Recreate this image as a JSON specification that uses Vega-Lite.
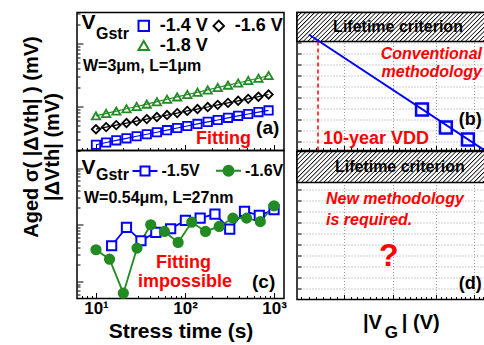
{
"$schema": "https://vega.github.io/schema/vega-lite/v6.json",
"background": "white",
"padding": {"left": 20, "top": 10.5, "right": 0, "bottom": 0},
"spacing": 7,
"config": {
  "font": "Liberation Sans",
  "view": {"stroke": "black", "strokeWidth": 1.5},
  "axis": {"domain": false, "tickColor": "black", "tickWidth": 1, "labelFontWeight": "bold", "titleFontWeight": "bold", "labelColor": "black", "titleColor": "black", "gridColor": "#9a9a9a", "gridDash": [1, 2], "gridWidth": 1},
  "text": {"fontWeight": "bold", "color": "black"}
},
"resolve": {"scale": {"x": "independent", "y": "independent", "color": "independent", "shape": "independent", "fill": "independent", "stroke": "independent"}},
"hconcat": [
{
  "spacing": 0,
  "bounds": "flush",
  "resolve": {"scale": {"x": "independent", "y": "independent", "color": "independent", "shape": "independent", "fill": "independent", "stroke": "independent"}},
  "vconcat": [
  {
    "width": 207, "height": 138,
    "data": {"values": [
      {"time":10,"dvth":2.47,"vg":"-1.4 V"},{"time":13,"dvth":2.68,"vg":"-1.4 V"},{"time":16.9,"dvth":2.9,"vg":"-1.4 V"},{"time":22,"dvth":3.12,"vg":"-1.4 V"},{"time":28.6,"dvth":3.37,"vg":"-1.4 V"},{"time":37.2,"dvth":3.62,"vg":"-1.4 V"},{"time":48.3,"dvth":3.9,"vg":"-1.4 V"},{"time":62.8,"dvth":4.2,"vg":"-1.4 V"},{"time":81.7,"dvth":4.55,"vg":"-1.4 V"},{"time":106,"dvth":4.9,"vg":"-1.4 V"},{"time":138,"dvth":5.28,"vg":"-1.4 V"},{"time":180,"dvth":5.7,"vg":"-1.4 V"},{"time":233,"dvth":6.1,"vg":"-1.4 V"},{"time":304,"dvth":6.6,"vg":"-1.4 V"},{"time":395,"dvth":7.1,"vg":"-1.4 V"},{"time":513,"dvth":7.6,"vg":"-1.4 V"},{"time":668,"dvth":8.15,"vg":"-1.4 V"},{"time":868,"dvth":8.65,"vg":"-1.4 V"},
      {"time":10,"dvth":4.36,"vg":"-1.6 V"},{"time":13,"dvth":4.7,"vg":"-1.6 V"},{"time":16.9,"dvth":5.05,"vg":"-1.6 V"},{"time":22,"dvth":5.45,"vg":"-1.6 V"},{"time":28.6,"dvth":5.85,"vg":"-1.6 V"},{"time":37.2,"dvth":6.3,"vg":"-1.6 V"},{"time":48.3,"dvth":6.8,"vg":"-1.6 V"},{"time":62.8,"dvth":7.3,"vg":"-1.6 V"},{"time":81.7,"dvth":7.85,"vg":"-1.6 V"},{"time":106,"dvth":8.5,"vg":"-1.6 V"},{"time":138,"dvth":9.1,"vg":"-1.6 V"},{"time":180,"dvth":9.8,"vg":"-1.6 V"},{"time":233,"dvth":10.6,"vg":"-1.6 V"},{"time":304,"dvth":11.4,"vg":"-1.6 V"},{"time":395,"dvth":12.3,"vg":"-1.6 V"},{"time":513,"dvth":13.2,"vg":"-1.6 V"},{"time":668,"dvth":14.3,"vg":"-1.6 V"},{"time":868,"dvth":15.5,"vg":"-1.6 V"},
      {"time":10,"dvth":7.1,"vg":"-1.8 V"},{"time":13,"dvth":7.75,"vg":"-1.8 V"},{"time":16.9,"dvth":8.45,"vg":"-1.8 V"},{"time":22,"dvth":9.2,"vg":"-1.8 V"},{"time":28.6,"dvth":10,"vg":"-1.8 V"},{"time":37.2,"dvth":10.9,"vg":"-1.8 V"},{"time":48.3,"dvth":11.9,"vg":"-1.8 V"},{"time":62.8,"dvth":13,"vg":"-1.8 V"},{"time":81.7,"dvth":14.2,"vg":"-1.8 V"},{"time":106,"dvth":15.5,"vg":"-1.8 V"},{"time":138,"dvth":16.8,"vg":"-1.8 V"},{"time":180,"dvth":18.3,"vg":"-1.8 V"},{"time":233,"dvth":20,"vg":"-1.8 V"},{"time":304,"dvth":21.8,"vg":"-1.8 V"},{"time":395,"dvth":23.6,"vg":"-1.8 V"},{"time":513,"dvth":25.8,"vg":"-1.8 V"},{"time":668,"dvth":28,"vg":"-1.8 V"},{"time":868,"dvth":31,"vg":"-1.8 V"}
    ]},
    "resolve": {"scale": {"shape": "independent", "color": "independent", "stroke": "independent"}},
    "layer": [
      {"mark": {"type": "line", "strokeWidth": 1.2},
       "encoding": {
         "x": {"field": "time", "type": "quantitative", "scale": {"type": "log", "domain": [6.12, 1294], "nice": false},
               "axis": {"title": null, "labels": false, "grid": false, "values": [7,8,9,10,20,30,40,50,60,70,80,90,100,200,300,400,500,600,700,800,900,1000],
                        "tickSize": {"condition": {"test": "datum.value===10||datum.value===100||datum.value===1000", "value": -6}, "value": -3}}},
         "y": {"field": "dvth", "type": "quantitative", "scale": {"type": "log", "domain": [2.0, 310], "nice": false},
               "axis": {"title": "|ΔVth| (mV)", "titleFontSize": 20, "titleX": -25, "titleY": 134, "titleBaseline": "middle", "labels": false, "grid": false,
                        "values": [2,3,4,5,6,7,8,9,10,20,30,40,50,60,70,80,90,100,200,300],
                        "tickSize": {"condition": {"test": "datum.value===10||datum.value===100", "value": -6}, "value": -3}}},
         "stroke": {"field": "vg", "type": "nominal", "scale": {"domain": ["-1.4 V","-1.6 V","-1.8 V"], "range": ["#0000ff","#000000","#228b22"]}, "legend": null}
       }},
      {"mark": {"type": "point", "filled": false, "size": 70, "strokeWidth": 1.8, "opacity": 1},
       "encoding": {
         "x": {"field": "time", "type": "quantitative"},
         "y": {"field": "dvth", "type": "quantitative"},
         "color": {"field": "vg", "type": "nominal", "scale": {"domain": ["-1.4 V","-1.6 V","-1.8 V"], "range": ["#0000ff","#000000","#228b22"]}, "legend": null},
         "shape": {"field": "vg", "type": "nominal", "scale": {"domain": ["-1.4 V","-1.6 V","-1.8 V"], "range": ["square","diamond","triangle-up"]}, "legend": null}
       }},
      {"transform": [{"filter": "false"}],
       "mark": {"type": "point", "filled": false, "size": 110, "strokeWidth": 2, "opacity": 1},
       "encoding": {
         "x": {"field": "time", "type": "quantitative"},
         "y": {"field": "dvth", "type": "quantitative"},
         "color": {"field": "vg", "type": "nominal", "scale": {"domain": ["-1.4 V","-1.6 V","-1.8 V"], "range": ["#0000ff","#000000","#228b22"]}, "legend": {"title": null, "orient": "none", "legendX": 57.75, "legendY": 4, "direction": "horizontal", "columns": 2, "columnPadding": 0, "rowPadding": 1, "padding": 0, "labelFontSize": 18, "labelFontWeight": "bold", "labelColor": "black", "symbolSize": 110, "symbolStrokeWidth": 2, "labelOffset": 7}},
         "shape": {"field": "vg", "type": "nominal", "scale": {"domain": ["-1.4 V","-1.6 V","-1.8 V"], "range": ["square","diamond","triangle-up"]}, "legend": {"title": null, "orient": "none", "legendX": 57.75, "legendY": 4, "direction": "horizontal", "columns": 2, "columnPadding": 0, "rowPadding": 1, "padding": 0, "labelFontSize": 18, "labelFontWeight": "bold", "labelColor": "black", "symbolSize": 110, "symbolStrokeWidth": 2, "labelOffset": 7}}
       }},
      {"data": {"values": [{"label": "V"}]}, "mark": {"type": "text", "align": "center", "baseline": "middle", "fontSize": 21},
       "encoding": {"text": {"field": "label"}, "x": {"datum": 8.24}, "y": {"datum": 215}}},
      {"data": {"values": [{"label": "Gstr"}]}, "mark": {"type": "text", "align": "left", "baseline": "middle", "fontSize": 16},
       "encoding": {"text": {"field": "label"}, "x": {"datum": 10}, "y": {"datum": 139}}},
      {"data": {"values": [{"label": "W=3μm, L=1μm"}]}, "mark": {"type": "text", "align": "left", "baseline": "middle", "fontSize": 16},
       "encoding": {"text": {"field": "label"}, "x": {"datum": 7.14}, "y": {"datum": 43.2}}},
      {"data": {"values": [{"label": "Fitting"}]}, "mark": {"type": "text", "align": "left", "baseline": "middle", "fontSize": 18, "color": "#ff0000"},
       "encoding": {"text": {"field": "label"}, "x": {"datum": 133}, "y": {"datum": 3.1}}},
      {"data": {"values": [{"label": "(a)"}]}, "mark": {"type": "text", "align": "left", "baseline": "middle", "fontSize": 19},
       "encoding": {"text": {"field": "label"}, "x": {"datum": 628}, "y": {"datum": 4.48}}}
    ]
  },
  {
    "width": 207, "height": 148,
    "data": {"values": [
      {"time":15,"sigma":4.26,"vg":"-1.5V"},{"time":22,"sigma":8.96,"vg":"-1.5V"},{"time":32,"sigma":5.22,"vg":"-1.5V"},{"time":47,"sigma":7.31,"vg":"-1.5V"},{"time":69,"sigma":8.5,"vg":"-1.5V"},{"time":101,"sigma":11.9,"vg":"-1.5V"},{"time":148,"sigma":13.1,"vg":"-1.5V"},{"time":217,"sigma":15.4,"vg":"-1.5V"},{"time":318,"sigma":8.36,"vg":"-1.5V"},{"time":466,"sigma":17.2,"vg":"-1.5V"},{"time":683,"sigma":14.6,"vg":"-1.5V"},{"time":1000,"sigma":18.4,"vg":"-1.5V"},
      {"time":10,"sigma":3.62,"vg":"-1.6V"},{"time":14.2,"sigma":2.47,"vg":"-1.6V"},{"time":20.3,"sigma":0.62,"vg":"-1.6V"},{"time":28.9,"sigma":3.87,"vg":"-1.6V"},{"time":41.2,"sigma":10,"vg":"-1.6V"},{"time":58.7,"sigma":7.62,"vg":"-1.6V"},{"time":83.7,"sigma":4.87,"vg":"-1.6V"},{"time":119,"sigma":11.1,"vg":"-1.6V"},{"time":170,"sigma":7.62,"vg":"-1.6V"},{"time":242,"sigma":9.33,"vg":"-1.6V"},{"time":345,"sigma":13.1,"vg":"-1.6V"},{"time":492,"sigma":13.1,"vg":"-1.6V"},{"time":701,"sigma":11.4,"vg":"-1.6V"},{"time":1000,"sigma":21.6,"vg":"-1.6V"}
    ]},
    "resolve": {"scale": {"shape": "independent", "fill": "independent", "stroke": "independent", "color": "independent"}},
    "layer": [
      {"mark": {"type": "line", "strokeWidth": 1.8},
       "encoding": {
         "x": {"field": "time", "type": "quantitative", "scale": {"type": "log", "domain": [6.12, 1294], "nice": false},
               "axis": {"title": "Stress time (s)", "titleFontSize": 21, "titlePadding": 4, "grid": false, "labelFontSize": 17, "labelPadding": 8,
                        "values": [7,8,9,10,20,30,40,50,60,70,80,90,100,200,300,400,500,600,700,800,900,1000],
                        "labelExpr": "datum.value===10?'10¹':datum.value===100?'10²':datum.value===1000?'10³':''",
                        "tickSize": {"condition": {"test": "datum.value===10||datum.value===100||datum.value===1000", "value": -6}, "value": -3}}},
         "y": {"field": "sigma", "type": "quantitative", "scale": {"type": "log", "domain": [0.5, 204], "nice": false},
               "axis": {"title": "Aged σ( |ΔVth| ) (mV)", "titleFontSize": 20, "titleX": -46, "titleY": -14, "titleBaseline": "middle", "labels": false, "grid": false,
                        "values": [0.6,0.7,0.8,0.9,1,2,3,4,5,6,7,8,9,10,20,30,40,50,60,70,80,90,100,200],
                        "tickSize": {"condition": {"test": "datum.value===1||datum.value===10||datum.value===100", "value": -6}, "value": -3}}},
         "color": {"field": "vg", "type": "nominal", "scale": {"domain": ["-1.5V","-1.6V"], "range": ["#0000ff","#228b22"]}, "legend": null}
       }},
      {"mark": {"type": "point", "filled": true, "size": 85, "strokeWidth": 2, "opacity": 1},
       "encoding": {
         "x": {"field": "time", "type": "quantitative"},
         "y": {"field": "sigma", "type": "quantitative"},
         "shape": {"field": "vg", "type": "nominal", "scale": {"domain": ["-1.5V","-1.6V"], "range": ["square","circle"]}, "legend": null},
         "fill": {"field": "vg", "type": "nominal", "scale": {"domain": ["-1.5V","-1.6V"], "range": ["#ffffff","#228b22"]}, "legend": null},
         "stroke": {"field": "vg", "type": "nominal", "scale": {"domain": ["-1.5V","-1.6V"], "range": ["#0000ff","#228b22"]}, "legend": null}
       }},
      {"transform": [{"filter": "false"}],
       "mark": {"type": "point", "filled": true, "size": 625, "strokeWidth": 2, "opacity": 1},
       "encoding": {
         "x": {"field": "time", "type": "quantitative"},
         "y": {"field": "sigma", "type": "quantitative"},
         "shape": {"field": "vg", "type": "nominal", "scale": {"domain": ["-1.5V","-1.6V"], "range": ["M-1,0H-0.36M0.36,0H1M-0.36,-0.36H0.36V0.36H-0.36Z", "M-1,0H1M0.4,0A0.4,0.4 0 1 1 -0.4,0A0.4,0.4 0 1 1 0.4,0Z"]},
                   "legend": {"title": null, "orient": "none", "legendX": 54.5, "legendY": 6.5, "direction": "horizontal", "columnPadding": 11.5, "padding": 0, "labelFontSize": 16, "labelFontWeight": "bold", "labelColor": "black", "symbolSize": 625, "symbolStrokeWidth": 2, "labelOffset": 3}},
         "fill": {"field": "vg", "type": "nominal", "scale": {"domain": ["-1.5V","-1.6V"], "range": ["#ffffff","#228b22"]},
                   "legend": {"title": null, "orient": "none", "legendX": 54.5, "legendY": 6.5, "direction": "horizontal", "columnPadding": 11.5, "padding": 0, "labelFontSize": 16, "labelFontWeight": "bold", "labelColor": "black", "symbolSize": 625, "symbolStrokeWidth": 2, "labelOffset": 3}},
         "stroke": {"field": "vg", "type": "nominal", "scale": {"domain": ["-1.5V","-1.6V"], "range": ["#0000ff","#228b22"]},
                   "legend": {"title": null, "orient": "none", "legendX": 54.5, "legendY": 6.5, "direction": "horizontal", "columnPadding": 11.5, "padding": 0, "labelFontSize": 16, "labelFontWeight": "bold", "labelColor": "black", "symbolSize": 625, "symbolStrokeWidth": 2, "labelOffset": 3}}
       }},
      {"data": {"values": [{"label": "V"}]}, "mark": {"type": "text", "align": "center", "baseline": "middle", "fontSize": 21},
       "encoding": {"text": {"field": "label"}, "x": {"datum": 8.24}, "y": {"datum": 100.4}}},
      {"data": {"values": [{"label": "Gstr"}]}, "mark": {"type": "text", "align": "left", "baseline": "middle", "fontSize": 16},
       "encoding": {"text": {"field": "label"}, "x": {"datum": 10}, "y": {"datum": 74.1}}},
      {"data": {"values": [{"label": "W=0.54μm, L=27nm"}]}, "mark": {"type": "text", "align": "left", "baseline": "middle", "fontSize": 16},
       "encoding": {"text": {"field": "label"}, "x": {"datum": 7.33}, "y": {"datum": 29.1}}},
      {"data": {"values": [{"label": "Fitting"}]}, "mark": {"type": "text", "align": "center", "baseline": "middle", "fontSize": 18, "color": "#ff0000"},
       "encoding": {"text": {"field": "label"}, "x": {"datum": 96.1}, "y": {"datum": 2.1}}},
      {"data": {"values": [{"label": "impossible"}]}, "mark": {"type": "text", "align": "center", "baseline": "middle", "fontSize": 18, "color": "#ff0000"},
       "encoding": {"text": {"field": "label"}, "x": {"datum": 100}, "y": {"datum": 0.96}}},
      {"data": {"values": [{"label": "(c)"}]}, "mark": {"type": "text", "align": "left", "baseline": "middle", "fontSize": 19},
       "encoding": {"text": {"field": "label"}, "x": {"datum": 566}, "y": {"datum": 0.96}}}
    ]
  }
  ]
},
{
  "spacing": 1,
  "bounds": "flush",
  "resolve": {"scale": {"x": "independent", "y": "independent", "color": "independent", "shape": "independent", "fill": "independent", "stroke": "independent"}},
  "vconcat": [
  {
    "width": 190, "height": 138,
    "data": {"values": [{"V": 1.076, "T": 5.3e9}, {"V": 1.855, "T": 0.17}]},
    "layer": [
      {"data": {"values": [{"region": "Lifetime criterion"}]},
       "mark": {"type": "rect", "stroke": "black", "strokeWidth": 1.5, "fill": {"gradient": "linear", "x1": 0, "y1": 0, "x2": 1.127, "y2": 0.172, "stops": [
{"offset":0,"color":"#000"},{"offset":0.006,"color":"#fff"},{"offset":0.016,"color":"#fff"},
{"offset":0.02,"color":"#000"},{"offset":0.026,"color":"#fff"},{"offset":0.036,"color":"#fff"},
{"offset":0.04,"color":"#000"},{"offset":0.046,"color":"#fff"},{"offset":0.056,"color":"#fff"},
{"offset":0.06,"color":"#000"},{"offset":0.066,"color":"#fff"},{"offset":0.076,"color":"#fff"},
{"offset":0.08,"color":"#000"},{"offset":0.086,"color":"#fff"},{"offset":0.096,"color":"#fff"},
{"offset":0.1,"color":"#000"},{"offset":0.106,"color":"#fff"},{"offset":0.116,"color":"#fff"},
{"offset":0.12,"color":"#000"},{"offset":0.126,"color":"#fff"},{"offset":0.136,"color":"#fff"},
{"offset":0.14,"color":"#000"},{"offset":0.146,"color":"#fff"},{"offset":0.156,"color":"#fff"},
{"offset":0.16,"color":"#000"},{"offset":0.166,"color":"#fff"},{"offset":0.176,"color":"#fff"},
{"offset":0.18,"color":"#000"},{"offset":0.186,"color":"#fff"},{"offset":0.196,"color":"#fff"},
{"offset":0.2,"color":"#000"},{"offset":0.206,"color":"#fff"},{"offset":0.216,"color":"#fff"},
{"offset":0.22,"color":"#000"},{"offset":0.226,"color":"#fff"},{"offset":0.236,"color":"#fff"},
{"offset":0.24,"color":"#000"},{"offset":0.246,"color":"#fff"},{"offset":0.256,"color":"#fff"},
{"offset":0.26,"color":"#000"},{"offset":0.266,"color":"#fff"},{"offset":0.276,"color":"#fff"},
{"offset":0.28,"color":"#000"},{"offset":0.286,"color":"#fff"},{"offset":0.296,"color":"#fff"},
{"offset":0.3,"color":"#000"},{"offset":0.306,"color":"#fff"},{"offset":0.316,"color":"#fff"},
{"offset":0.32,"color":"#000"},{"offset":0.326,"color":"#fff"},{"offset":0.336,"color":"#fff"},
{"offset":0.34,"color":"#000"},{"offset":0.346,"color":"#fff"},{"offset":0.356,"color":"#fff"},
{"offset":0.36,"color":"#000"},{"offset":0.366,"color":"#fff"},{"offset":0.376,"color":"#fff"},
{"offset":0.38,"color":"#000"},{"offset":0.386,"color":"#fff"},{"offset":0.396,"color":"#fff"},
{"offset":0.4,"color":"#000"},{"offset":0.406,"color":"#fff"},{"offset":0.416,"color":"#fff"},
{"offset":0.42,"color":"#000"},{"offset":0.426,"color":"#fff"},{"offset":0.436,"color":"#fff"},
{"offset":0.44,"color":"#000"},{"offset":0.446,"color":"#fff"},{"offset":0.456,"color":"#fff"},
{"offset":0.46,"color":"#000"},{"offset":0.466,"color":"#fff"},{"offset":0.476,"color":"#fff"},
{"offset":0.48,"color":"#000"},{"offset":0.486,"color":"#fff"},{"offset":0.496,"color":"#fff"},
{"offset":0.5,"color":"#000"},{"offset":0.506,"color":"#fff"},{"offset":0.516,"color":"#fff"},
{"offset":0.52,"color":"#000"},{"offset":0.526,"color":"#fff"},{"offset":0.536,"color":"#fff"},
{"offset":0.54,"color":"#000"},{"offset":0.546,"color":"#fff"},{"offset":0.556,"color":"#fff"},
{"offset":0.56,"color":"#000"},{"offset":0.566,"color":"#fff"},{"offset":0.576,"color":"#fff"},
{"offset":0.58,"color":"#000"},{"offset":0.586,"color":"#fff"},{"offset":0.596,"color":"#fff"},
{"offset":0.6,"color":"#000"},{"offset":0.606,"color":"#fff"},{"offset":0.616,"color":"#fff"},
{"offset":0.62,"color":"#000"},{"offset":0.626,"color":"#fff"},{"offset":0.636,"color":"#fff"},
{"offset":0.64,"color":"#000"},{"offset":0.646,"color":"#fff"},{"offset":0.656,"color":"#fff"},
{"offset":0.66,"color":"#000"},{"offset":0.666,"color":"#fff"},{"offset":0.676,"color":"#fff"},
{"offset":0.68,"color":"#000"},{"offset":0.686,"color":"#fff"},{"offset":0.696,"color":"#fff"},
{"offset":0.7,"color":"#000"},{"offset":0.706,"color":"#fff"},{"offset":0.716,"color":"#fff"},
{"offset":0.72,"color":"#000"},{"offset":0.726,"color":"#fff"},{"offset":0.736,"color":"#fff"},
{"offset":0.74,"color":"#000"},{"offset":0.746,"color":"#fff"},{"offset":0.756,"color":"#fff"},
{"offset":0.76,"color":"#000"},{"offset":0.766,"color":"#fff"},{"offset":0.776,"color":"#fff"},
{"offset":0.78,"color":"#000"},{"offset":0.786,"color":"#fff"},{"offset":0.796,"color":"#fff"},
{"offset":0.8,"color":"#000"},{"offset":0.806,"color":"#fff"},{"offset":0.816,"color":"#fff"},
{"offset":0.82,"color":"#000"},{"offset":0.826,"color":"#fff"},{"offset":0.836,"color":"#fff"},
{"offset":0.84,"color":"#000"},{"offset":0.846,"color":"#fff"},{"offset":0.856,"color":"#fff"},
{"offset":0.86,"color":"#000"},{"offset":0.866,"color":"#fff"},{"offset":0.876,"color":"#fff"},
{"offset":0.88,"color":"#000"},{"offset":0.886,"color":"#fff"},{"offset":0.896,"color":"#fff"},
{"offset":0.9,"color":"#000"},{"offset":0.906,"color":"#fff"},{"offset":0.916,"color":"#fff"},
{"offset":0.92,"color":"#000"},{"offset":0.926,"color":"#fff"},{"offset":0.936,"color":"#fff"},
{"offset":0.94,"color":"#000"},{"offset":0.946,"color":"#fff"},{"offset":0.956,"color":"#fff"},
{"offset":0.96,"color":"#000"},{"offset":0.966,"color":"#fff"},{"offset":0.976,"color":"#fff"},
{"offset":0.98,"color":"#000"},{"offset":0.986,"color":"#fff"},{"offset":0.996,"color":"#fff"},
{"offset":1,"color":"#000"}
       ]}},
       "encoding": {
         "x": {"datum": 1.037, "type": "quantitative", "scale": {"type": "log", "domain": [1.037, 1.873], "nice": false},
               "axis": {"title": null, "labels": false, "grid": true, "values": [1.05,1.075,1.1,1.125,1.15,1.175,1.2,1.225,1.25,1.275,1.3,1.325,1.35,1.375,1.4,1.425,1.45,1.475,1.5,1.525,1.55,1.575,1.6,1.625,1.65,1.675,1.7,1.725,1.75,1.775,1.8,1.825,1.85],
                        "gridOpacity": {"condition": {"test": "datum.value===1.2||datum.value===1.4||datum.value===1.6||datum.value===1.8", "value": 1}, "value": 0},
                        "tickSize": {"condition": {"test": "datum.value===1.2||datum.value===1.4||datum.value===1.6||datum.value===1.8", "value": -5}, "value": -3}}},
         "x2": {"datum": 1.873},
         "y": {"datum": 1.23e9, "type": "quantitative", "scale": {"type": "log", "domain": [0.152, 5.3e11], "nice": false},
               "axis": {"title": null, "labels": false, "grid": true, "tickSize": -4, "values": [1,10,100,1000,1e4,1e5,1e6,1e7,1e8,1e9,1e10,1e11]}},
         "y2": {"datum": 5.3e11}
       }},
      {"data": {"values": [{"label": "10-year VDD"}]}, "mark": {"type": "rule", "color": "#ff0000", "strokeWidth": 1.5, "strokeDash": [4, 3]},
       "encoding": {"x": {"datum": 1.107}, "y": {"datum": 0.152}, "y2": {"datum": 1.23e9}}},
      {"mark": {"type": "line", "color": "#0000ff", "strokeWidth": 2},
       "encoding": {"x": {"field": "V", "type": "quantitative"}, "y": {"field": "T", "type": "quantitative"}}},
      {"data": {"values": [{"V": 1.53, "T": 811}, {"V": 1.648, "T": 18.7}, {"V": 1.765, "T": 1.52}]},
       "mark": {"type": "point", "shape": "square", "filled": false, "size": 140, "strokeWidth": 2.5, "color": "#0000ff", "opacity": 1},
       "encoding": {"x": {"field": "V", "type": "quantitative"}, "y": {"field": "T", "type": "quantitative"}}},
      {"data": {"values": [{"label": "Lifetime criterion"}]}, "mark": {"type": "text", "align": "center", "baseline": "middle", "fontSize": 16},
       "encoding": {"text": {"field": "label"}, "x": {"datum": 1.42}, "y": {"datum": 2.3e10}}},
      {"data": {"values": [{"label": "Conventional"}]}, "mark": {"type": "text", "align": "right", "baseline": "middle", "fontSize": 16, "fontStyle": "italic", "color": "#ff0000"},
       "encoding": {"text": {"field": "label"}, "x": {"datum": 1.844}, "y": {"datum": 8.1e7}}},
      {"data": {"values": [{"label": "methodology"}]}, "mark": {"type": "text", "align": "right", "baseline": "middle", "fontSize": 16, "fontStyle": "italic", "color": "#ff0000"},
       "encoding": {"text": {"field": "label"}, "x": {"datum": 1.844}, "y": {"datum": 1.87e6}}},
      {"data": {"values": [{"label": "10-year VDD"}]}, "mark": {"type": "text", "align": "left", "baseline": "middle", "fontSize": 18, "color": "#ff0000"},
       "encoding": {"text": {"field": "label"}, "x": {"datum": 1.124}, "y": {"datum": 1.87}}},
      {"data": {"values": [{"label": "(b)"}]}, "mark": {"type": "text", "align": "left", "baseline": "middle", "fontSize": 18},
       "encoding": {"text": {"field": "label"}, "x": {"datum": 1.715}, "y": {"datum": 81}}}
    ]
  },
  {
    "width": 190, "height": 148,
    "data": {"values": [{"region": "Lifetime criterion"}]},
    "layer": [
      {"mark": {"type": "rect", "stroke": "black", "strokeWidth": 1.5, "fill": {"gradient": "linear", "x1": 0, "y1": 0, "x2": 1.132, "y2": 0.185, "stops": [
{"offset":0,"color":"#000"},{"offset":0.006,"color":"#fff"},{"offset":0.016,"color":"#fff"},
{"offset":0.02,"color":"#000"},{"offset":0.026,"color":"#fff"},{"offset":0.036,"color":"#fff"},
{"offset":0.04,"color":"#000"},{"offset":0.046,"color":"#fff"},{"offset":0.056,"color":"#fff"},
{"offset":0.06,"color":"#000"},{"offset":0.066,"color":"#fff"},{"offset":0.076,"color":"#fff"},
{"offset":0.08,"color":"#000"},{"offset":0.086,"color":"#fff"},{"offset":0.096,"color":"#fff"},
{"offset":0.1,"color":"#000"},{"offset":0.106,"color":"#fff"},{"offset":0.116,"color":"#fff"},
{"offset":0.12,"color":"#000"},{"offset":0.126,"color":"#fff"},{"offset":0.136,"color":"#fff"},
{"offset":0.14,"color":"#000"},{"offset":0.146,"color":"#fff"},{"offset":0.156,"color":"#fff"},
{"offset":0.16,"color":"#000"},{"offset":0.166,"color":"#fff"},{"offset":0.176,"color":"#fff"},
{"offset":0.18,"color":"#000"},{"offset":0.186,"color":"#fff"},{"offset":0.196,"color":"#fff"},
{"offset":0.2,"color":"#000"},{"offset":0.206,"color":"#fff"},{"offset":0.216,"color":"#fff"},
{"offset":0.22,"color":"#000"},{"offset":0.226,"color":"#fff"},{"offset":0.236,"color":"#fff"},
{"offset":0.24,"color":"#000"},{"offset":0.246,"color":"#fff"},{"offset":0.256,"color":"#fff"},
{"offset":0.26,"color":"#000"},{"offset":0.266,"color":"#fff"},{"offset":0.276,"color":"#fff"},
{"offset":0.28,"color":"#000"},{"offset":0.286,"color":"#fff"},{"offset":0.296,"color":"#fff"},
{"offset":0.3,"color":"#000"},{"offset":0.306,"color":"#fff"},{"offset":0.316,"color":"#fff"},
{"offset":0.32,"color":"#000"},{"offset":0.326,"color":"#fff"},{"offset":0.336,"color":"#fff"},
{"offset":0.34,"color":"#000"},{"offset":0.346,"color":"#fff"},{"offset":0.356,"color":"#fff"},
{"offset":0.36,"color":"#000"},{"offset":0.366,"color":"#fff"},{"offset":0.376,"color":"#fff"},
{"offset":0.38,"color":"#000"},{"offset":0.386,"color":"#fff"},{"offset":0.396,"color":"#fff"},
{"offset":0.4,"color":"#000"},{"offset":0.406,"color":"#fff"},{"offset":0.416,"color":"#fff"},
{"offset":0.42,"color":"#000"},{"offset":0.426,"color":"#fff"},{"offset":0.436,"color":"#fff"},
{"offset":0.44,"color":"#000"},{"offset":0.446,"color":"#fff"},{"offset":0.456,"color":"#fff"},
{"offset":0.46,"color":"#000"},{"offset":0.466,"color":"#fff"},{"offset":0.476,"color":"#fff"},
{"offset":0.48,"color":"#000"},{"offset":0.486,"color":"#fff"},{"offset":0.496,"color":"#fff"},
{"offset":0.5,"color":"#000"},{"offset":0.506,"color":"#fff"},{"offset":0.516,"color":"#fff"},
{"offset":0.52,"color":"#000"},{"offset":0.526,"color":"#fff"},{"offset":0.536,"color":"#fff"},
{"offset":0.54,"color":"#000"},{"offset":0.546,"color":"#fff"},{"offset":0.556,"color":"#fff"},
{"offset":0.56,"color":"#000"},{"offset":0.566,"color":"#fff"},{"offset":0.576,"color":"#fff"},
{"offset":0.58,"color":"#000"},{"offset":0.586,"color":"#fff"},{"offset":0.596,"color":"#fff"},
{"offset":0.6,"color":"#000"},{"offset":0.606,"color":"#fff"},{"offset":0.616,"color":"#fff"},
{"offset":0.62,"color":"#000"},{"offset":0.626,"color":"#fff"},{"offset":0.636,"color":"#fff"},
{"offset":0.64,"color":"#000"},{"offset":0.646,"color":"#fff"},{"offset":0.656,"color":"#fff"},
{"offset":0.66,"color":"#000"},{"offset":0.666,"color":"#fff"},{"offset":0.676,"color":"#fff"},
{"offset":0.68,"color":"#000"},{"offset":0.686,"color":"#fff"},{"offset":0.696,"color":"#fff"},
{"offset":0.7,"color":"#000"},{"offset":0.706,"color":"#fff"},{"offset":0.716,"color":"#fff"},
{"offset":0.72,"color":"#000"},{"offset":0.726,"color":"#fff"},{"offset":0.736,"color":"#fff"},
{"offset":0.74,"color":"#000"},{"offset":0.746,"color":"#fff"},{"offset":0.756,"color":"#fff"},
{"offset":0.76,"color":"#000"},{"offset":0.766,"color":"#fff"},{"offset":0.776,"color":"#fff"},
{"offset":0.78,"color":"#000"},{"offset":0.786,"color":"#fff"},{"offset":0.796,"color":"#fff"},
{"offset":0.8,"color":"#000"},{"offset":0.806,"color":"#fff"},{"offset":0.816,"color":"#fff"},
{"offset":0.82,"color":"#000"},{"offset":0.826,"color":"#fff"},{"offset":0.836,"color":"#fff"},
{"offset":0.84,"color":"#000"},{"offset":0.846,"color":"#fff"},{"offset":0.856,"color":"#fff"},
{"offset":0.86,"color":"#000"},{"offset":0.866,"color":"#fff"},{"offset":0.876,"color":"#fff"},
{"offset":0.88,"color":"#000"},{"offset":0.886,"color":"#fff"},{"offset":0.896,"color":"#fff"},
{"offset":0.9,"color":"#000"},{"offset":0.906,"color":"#fff"},{"offset":0.916,"color":"#fff"},
{"offset":0.92,"color":"#000"},{"offset":0.926,"color":"#fff"},{"offset":0.936,"color":"#fff"},
{"offset":0.94,"color":"#000"},{"offset":0.946,"color":"#fff"},{"offset":0.956,"color":"#fff"},
{"offset":0.96,"color":"#000"},{"offset":0.966,"color":"#fff"},{"offset":0.976,"color":"#fff"},
{"offset":0.98,"color":"#000"},{"offset":0.986,"color":"#fff"},{"offset":0.996,"color":"#fff"},
{"offset":1,"color":"#000"}
       ]}},
       "encoding": {
         "x": {"datum": 1.037, "type": "quantitative", "scale": {"type": "log", "domain": [1.037, 1.873], "nice": false},
               "axis": {"title": null, "labels": false, "grid": true, "values": [1.05,1.075,1.1,1.125,1.15,1.175,1.2,1.225,1.25,1.275,1.3,1.325,1.35,1.375,1.4,1.425,1.45,1.475,1.5,1.525,1.55,1.575,1.6,1.625,1.65,1.675,1.7,1.725,1.75,1.775,1.8,1.825,1.85],
                        "gridOpacity": {"condition": {"test": "datum.value===1.2||datum.value===1.4||datum.value===1.6||datum.value===1.8", "value": 1}, "value": 0},
                        "tickSize": {"condition": {"test": "datum.value===1.2||datum.value===1.4||datum.value===1.6||datum.value===1.8", "value": -5}, "value": -3}}},
         "x2": {"datum": 1.873},
         "y": {"datum": 4.33e9, "type": "quantitative", "scale": {"type": "log", "domain": [0.1, 2.84e12], "nice": false},
               "axis": {"title": null, "labels": false, "grid": true, "tickSize": -4, "values": [1,10,100,1000,1e4,1e5,1e6,1e7,1e8,1e9,1e10,1e11,1e12]}},
         "y2": {"datum": 2.84e12}
       }},
      {"mark": {"type": "text", "align": "center", "baseline": "middle", "fontSize": 16},
       "encoding": {"text": {"field": "region"}, "x": {"datum": 1.428}, "y": {"datum": 1e11}}},
      {"data": {"values": [{"label": "New methodology"}]}, "mark": {"type": "text", "align": "left", "baseline": "middle", "fontSize": 16, "fontStyle": "italic", "color": "#ff0000"},
       "encoding": {"text": {"field": "label"}, "x": {"datum": 1.135}, "y": {"datum": 1.24e8}}},
      {"data": {"values": [{"label": "is required."}]}, "mark": {"type": "text", "align": "left", "baseline": "middle", "fontSize": 16, "fontStyle": "italic", "color": "#ff0000"},
       "encoding": {"text": {"field": "label"}, "x": {"datum": 1.135}, "y": {"datum": 1.87e6}}},
      {"data": {"values": [{"label": "?"}]}, "mark": {"type": "text", "align": "center", "baseline": "middle", "fontSize": 32, "color": "#ff0000"},
       "encoding": {"text": {"field": "label"}, "x": {"datum": 1.38}, "y": {"datum": 811}}},
      {"data": {"values": [{"label": "(d)"}]}, "mark": {"type": "text", "align": "left", "baseline": "middle", "fontSize": 18},
       "encoding": {"text": {"field": "label"}, "x": {"datum": 1.715}, "y": {"datum": 2.31}}},
      {"data": {"values": [{"label": "|V"}]}, "mark": {"type": "text", "align": "left", "baseline": "middle", "fontSize": 20},
       "encoding": {"text": {"field": "label"}, "x": {"datum": 1.273}, "y": {"datum": 6.6e-4}}},
      {"data": {"values": [{"label": "G"}]}, "mark": {"type": "text", "align": "left", "baseline": "middle", "fontSize": 17},
       "encoding": {"text": {"field": "label"}, "x": {"datum": 1.363}, "y": {"datum": 1e-4}}},
      {"data": {"values": [{"label": "| (V)"}]}, "mark": {"type": "text", "align": "left", "baseline": "middle", "fontSize": 20},
       "encoding": {"text": {"field": "label"}, "x": {"datum": 1.437}, "y": {"datum": 6.6e-4}}}
    ]
  }
  ]
}
]
}
